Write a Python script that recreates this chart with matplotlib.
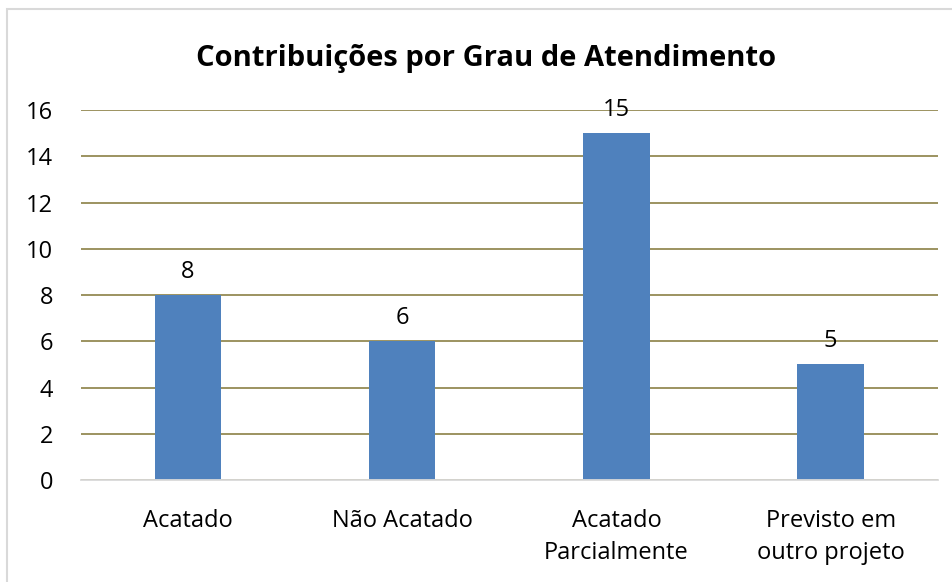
import matplotlib.pyplot as plt
import numpy as np
from matplotlib.patches import Rectangle

categorias = ["Acatado", "Não Acatado", "Acatado\nParcialmente", "Previsto em\noutro projeto"]
valores = [8, 6, 15, 5]

plt.rcParams['font.family'] = ['Open Sans', 'DejaVu Sans']

fig = plt.figure(figsize=(9.52, 5.82), dpi=100)
ax = fig.add_axes([0.085, 0.175, 0.9, 0.636])

x = np.arange(len(categorias))
ax.bar(x, valores, width=0.31, color='#4F81BD', zorder=3)

for xi, v in zip(x, valores):
    ax.annotate(str(v), (xi, v), xytext=(0, 8), textcoords='offset points',
                ha='center', va='bottom', fontsize=17, color='black', zorder=4)

ax.set_xlim(-0.5, len(categorias) - 0.5)
ax.set_ylim(0, 16)
ax.set_yticks(np.arange(0, 17, 2))
ax.set_xticks(x)
ax.set_xticklabels(categorias, fontsize=17, linespacing=1.42)
ax.tick_params(axis='y', labelsize=17, length=0, pad=20)
ax.tick_params(axis='x', length=0, pad=21)
ax.yaxis.grid(True, color='#948A54', linewidth=1.3, zorder=0)
for s in ['top', 'right', 'left']:
    ax.spines[s].set_visible(False)
ax.spines['bottom'].set_color('#D9D9D9')
ax.spines['bottom'].set_linewidth(1.3)
ax.spines['bottom'].set_zorder(5)

fig.text(0.511, 0.9, "Contribuições por Grau de Atendimento", ha='center', va='center',
         fontsize=21, fontweight='bold')

fig.patches.append(Rectangle((0.007, -0.01), 1.0, 0.995, transform=fig.transFigure,
                             fill=False, edgecolor='#D9D9D9', linewidth=1.5))

fig.savefig('out.png', dpi=100)
